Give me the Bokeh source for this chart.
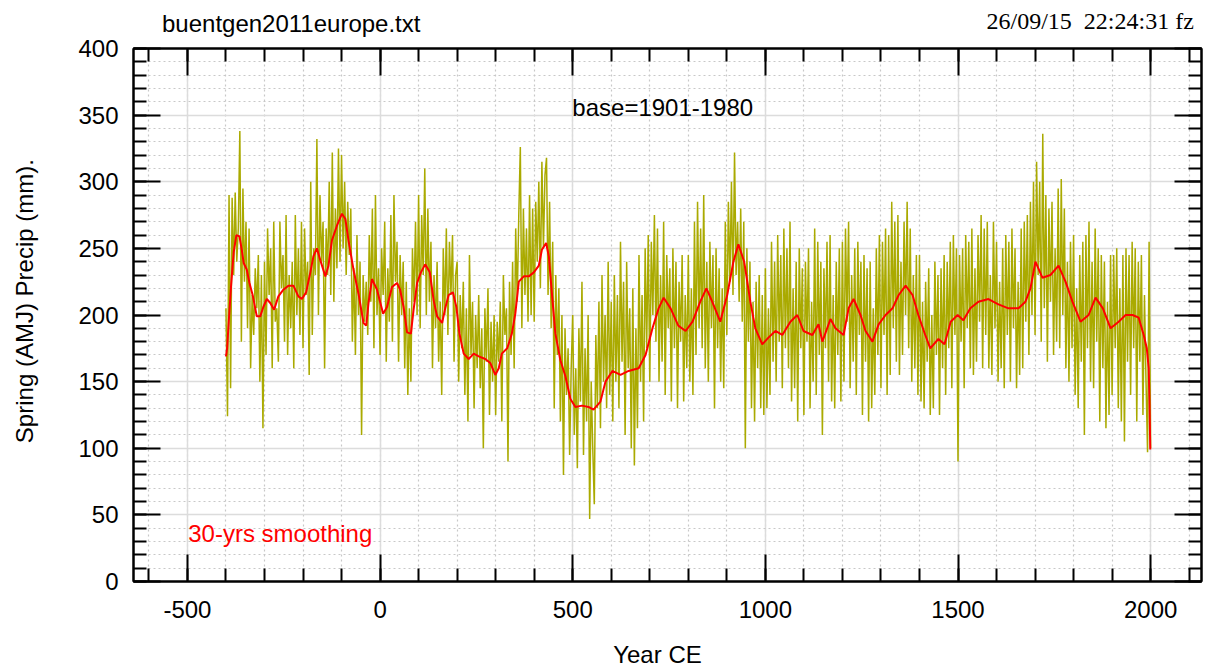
import math
from bokeh.plotting import figure
from bokeh.models import FixedTicker, LinearAxis, Range1d, Label
from bokeh.embed import file_html
from bokeh.resources import INLINE

# ---------------- data ----------------
green_years = list(range(-400, 2001, 4))
green_values = [
    205,124,290,145,288,230,292,240,265,338,180,295,225,270,190,265,160,215,185,235,205,245,150,230,115,
    240,170,265,215,250,160,270,195,205,165,270,220,245,180,275,170,230,190,240,160,275,200,250,185,270,
    175,265,215,240,155,300,185,250,230,332,200,290,240,270,160,265,230,300,215,322,210,280,235,325,240,
    320,250,300,230,285,245,280,180,235,170,260,200,240,110,230,195,225,185,260,210,280,175,290,200,235,
    170,250,215,270,165,235,195,275,180,290,225,255,165,245,200,240,160,225,140,205,150,250,210,270,200,
    290,190,275,230,310,200,280,210,255,160,230,190,240,165,210,140,250,200,265,185,255,215,260,165,230,
    240,150,215,175,225,140,205,120,245,170,210,130,200,160,215,145,190,100,205,165,220,125,195,150,200,
    125,195,165,210,120,230,185,205,90,225,170,240,160,265,210,275,326,190,280,215,265,195,290,200,280,
    195,285,240,300,220,315,250,305,318,215,285,190,255,130,230,170,220,120,200,80,190,140,175,95,160,
    200,110,160,85,190,135,225,95,175,120,200,47,150,100,58,185,130,210,115,230,150,200,130,240,140,
    210,120,230,150,215,130,255,165,225,110,240,160,205,100,220,87,190,115,245,150,215,120,250,175,260,
    150,255,200,275,180,265,150,230,165,270,140,245,190,235,135,250,175,240,130,225,180,245,135,215,160,
    245,150,220,140,270,170,285,190,265,175,290,160,240,150,255,190,245,130,250,175,235,150,220,145,270,
    185,285,225,300,215,322,230,270,210,280,195,270,100,250,180,240,130,210,120,225,160,230,130,215,125,
    235,130,205,140,255,165,240,150,260,180,245,145,265,175,250,160,270,135,220,145,240,120,250,175,235,
    125,240,180,250,130,210,150,265,140,255,170,240,110,235,175,255,150,260,135,215,130,240,170,250,135,
    255,150,265,195,270,145,230,165,250,140,255,185,240,125,245,165,235,120,240,130,205,140,250,170,260,
    145,255,185,265,140,260,155,285,190,270,165,275,155,240,170,270,200,285,175,265,150,230,160,245,140,
    245,135,210,130,225,165,235,125,200,130,240,170,230,125,235,160,245,140,240,175,255,145,260,185,250,
    90,245,180,250,145,260,190,255,160,265,155,235,165,260,195,275,160,265,185,270,160,230,155,270,190,
    255,150,225,160,250,145,260,185,255,150,265,190,250,145,225,155,265,160,270,195,275,170,285,200,300,
    185,315,230,300,180,336,205,290,165,280,210,285,170,250,180,295,175,302,200,280,160,240,150,255,175,
    260,140,220,130,245,165,255,110,260,175,270,150,240,145,265,180,250,120,245,160,240,115,210,125,245,
    140,245,175,250,130,220,120,245,105,250,165,245,140,255,175,250,120,240,165,245,125,215,150,97,255,
    100,
]

red_years = [
    -400,-397,-393,-387,-380,-373,-365,-359,-354,-346,-339,-330,-320,-311,-303,-294,-285,-275,-264,-251,
    -238,-225,-212,-203,-192,-181,-173,-164,-155,-142,-134,-125,-112,-99,-90,-82,-69,-56,-43,-36,
    -30,-21,-8,8,18,31,44,52,61,70,80,87,96,106,117,129,139,148,161,169,
    178,189,198,206,217,230,243,256,273,286,299,308,316,330,342,351,360,373,386,399,
    412,420,431,438,446,455,468,481,494,507,524,541,554,572,585,603,624,645,671,689,
    707,723,736,754,774,793,811,831,847,862,883,901,917,930,945,961,974,992,1008,1026,
    1044,1065,1083,1099,1122,1138,1148,1169,1182,1203,1216,1229,1247,1260,1278,1294,1312,1330,1346,1364,
    1382,1397,1415,1428,1449,1465,1481,1499,1514,1532,1553,1579,1605,1631,1657,1675,1688,1701,1719,1740,
    1761,1779,1797,1818,1839,1857,1876,1896,1917,1935,1953,1969,1982,1990,1995,1997,1999,
]
red_values = [
    169,175,194,221,247,260,259,249,239,234,224,214,199,199,206,212,209,204,214,219,
    222,222,214,212,217,232,244,250,241,229,237,256,267,276,272,256,234,216,194,192,
    209,227,219,201,206,221,224,219,206,187,186,204,224,232,238,232,211,199,194,205,
    215,217,206,186,171,167,171,169,167,164,155,160,171,175,186,201,225,229,229,232,
    237,249,254,244,216,186,166,154,137,131,132,131,129,135,150,158,155,158,160,170,
    190,205,213,205,192,188,195,210,220,210,195,215,240,253,240,210,190,178,183,188,
    185,195,200,188,185,193,180,197,190,185,205,212,200,188,180,193,200,205,215,222,
    215,200,185,175,182,178,195,200,196,205,210,212,208,205,205,210,220,240,228,230,
    237,225,210,195,200,213,205,190,195,200,200,198,185,175,160,136,99,
]

x_major = [-500, 0, 500, 1000, 1500, 2000]
x_minor = list(range(-600, 2101, 100))
y_major = list(range(0, 401, 50))
y_minor = list(range(0, 401, 10))
x_tick_labels = {-500: "-500", 0: "0", 500: "500", 1000: "1000", 1500: "1500", 2000: "2000"}

title_text = "buentgen2011europe.txt"
stamp_text = "26/09/15\u00a0 22:24:31 fz"
base_text = "base=1901-1980"
smooth_text = "30-yrs smoothing"
x_title = "Year CE"
y_title = "Spring (AMJ) Precip (mm)."

# ---------------- figure ----------------
FONT = "Liberation Sans"
FS = "24px"

p = figure(width=1209, height=670, x_range=Range1d(-640, 2132), y_range=Range1d(0, 400),
           output_backend="svg", toolbar_location=None,
           min_border_left=133, min_border_right=8, min_border_top=48, min_border_bottom=88,
           background_fill_color="white", border_fill_color="white")
p.outline_line_color = "black"
p.outline_line_width = 2

def style_axis(ax, ticks, minor, show_labels):
    ax.ticker = FixedTicker(ticks=ticks, minor_ticks=minor)
    ax.axis_line_color = "black"
    ax.axis_line_width = 2
    ax.major_tick_line_color = "black"
    ax.major_tick_line_width = 2
    ax.minor_tick_line_color = "black"
    ax.minor_tick_line_width = 2
    ax.major_tick_in = 27
    ax.major_tick_out = 0
    ax.minor_tick_in = 13
    ax.minor_tick_out = 0
    if show_labels:
        ax.major_label_text_font = FONT
        ax.major_label_text_font_size = FS
        ax.major_label_text_color = "black"
        ax.major_label_standoff = 15
    else:
        ax.major_label_overrides = {t: "" for t in ticks}
        ax.major_label_text_font_size = "0px"
        ax.major_label_standoff = 0

def text_axis(pos, text, font, standoff, orientation="horizontal"):
    ax = LinearAxis(ticker=FixedTicker(ticks=[pos], minor_ticks=[]),
                    major_label_overrides={pos: text})
    ax.axis_line_color = None
    ax.major_tick_line_color = None
    ax.minor_tick_line_color = None
    ax.major_tick_in = 0
    ax.major_tick_out = 0
    ax.minor_tick_in = 0
    ax.minor_tick_out = 0
    ax.major_label_text_font = font
    ax.major_label_text_font_size = FS
    ax.major_label_text_color = "black"
    ax.major_label_standoff = standoff
    ax.major_label_orientation = orientation
    return ax

style_axis(p.xaxis[0], x_major, x_minor, True)
p.xaxis[0].major_label_overrides = x_tick_labels
p.xaxis[0].major_label_standoff = 19
style_axis(p.yaxis[0], y_major, y_minor, True)

top = LinearAxis()
style_axis(top, x_major, x_minor, False)
p.add_layout(top, "above")
right = LinearAxis()
style_axis(right, y_major, y_minor, False)
p.add_layout(right, "right")

# texts outside the frame, carried by label-only axes
p.add_layout(text_axis(-230.6, title_text, FONT, 12), "above")
p.add_layout(text_axis(1843, stamp_text, "Liberation Serif", -27), "above")
p.add_layout(text_axis(720, x_title, FONT, 20), "below")
p.add_layout(text_axis(210.4, y_title, FONT, 37, "parallel"), "left")

for g, ticks, minor in ((p.xgrid[0], x_major, x_minor), (p.ygrid[0], y_major, y_minor)):
    g.ticker = FixedTicker(ticks=ticks, minor_ticks=minor)
    g.grid_line_color = "#dcdcdc"
    g.grid_line_width = 1.5
    g.minor_grid_line_color = "#c8c8c8"
    g.minor_grid_line_width = 1.2
    g.minor_grid_line_dash = "2 3"

p.line(green_years, green_values, line_color="#aaaa00", line_width=1.5)
p.line(red_years, red_values, line_color="#ff0000", line_width=2)

p.add_layout(Label(x=499, y=355.8, text=base_text, text_font=FONT,
                   text_font_size=FS, text_baseline="middle", text_align="left", text_color="black"))
p.add_layout(Label(x=-498, y=35.7, text=smooth_text, text_font=FONT,
                   text_font_size=FS, text_baseline="middle", text_align="left", text_color="#ff0000"))

open("out.html", "w").write(file_html(p, INLINE))
